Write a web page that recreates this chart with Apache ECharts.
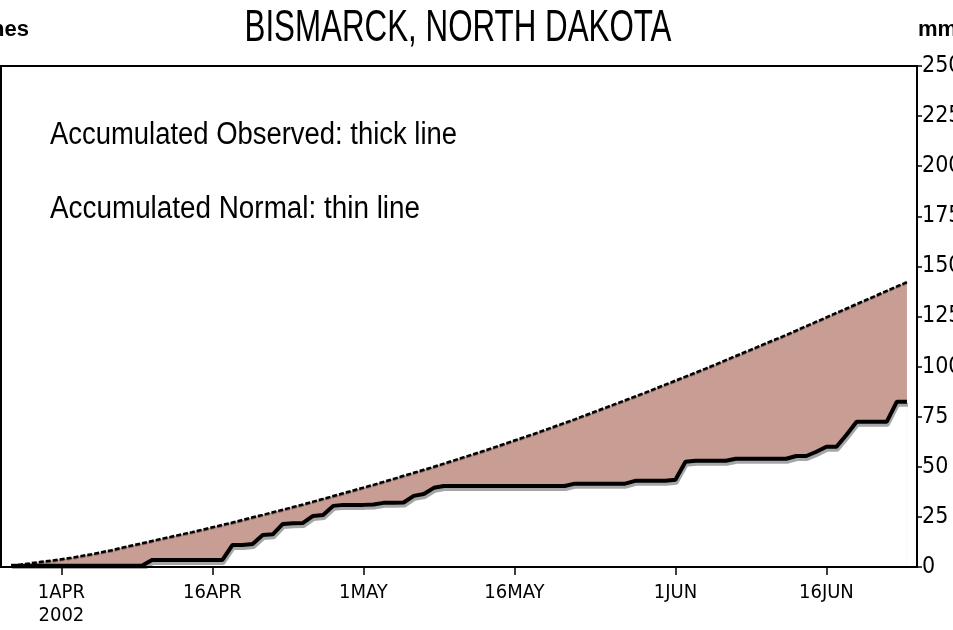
<!DOCTYPE html>
<html>
<head>
<meta charset="utf-8">
<script src="https://cdn.jsdelivr.net/npm/echarts@6/dist/echarts.min.js"></script>
<style>
  html, body { margin: 0; padding: 0; background: #fff; }
  #chart { width: 953px; height: 630px; }
</style>
</head>
<body>
<div id="chart"></div>
<script>
// daily axis, 26 Mar .. 25 Jun 2002
const monthNames = ["JAN", "FEB", "MAR", "APR", "MAY", "JUN"];
const days = [];
for (let i = 0; i < 92; i++) {
  const d = new Date(2002, 2, 26 + i);
  days.push(d.getDate() + monthNames[d.getMonth()]);
}

const tickDays = ["1APR", "16APR", "1MAY", "16MAY", "1JUN", "16JUN"];
const tickText = ["1APR\n2002", "16APR", "1MAY", "16MAY", "1JUN", "16JUN"];

// accumulated normal precipitation, mm
const normalMm = [
  null,
  0.6, 1.2, 1.9, 2.6, 3.2, 3.9, 4.6, 5.5, 6.4, 7.4,
  8.4, 9.6, 10.7, 11.8, 13.0, 14.1, 15.2, 16.3, 17.4, 18.6,
  19.8, 21.0, 22.2, 23.5, 24.8, 26.0, 27.3, 28.6, 29.9, 31.2,
  32.6, 34.0, 35.4, 36.8, 38.2, 39.6, 41.0, 42.5, 44.0, 45.5,
  47.0, 48.5, 50.0, 51.6, 53.2, 54.8, 56.4, 58.0, 59.7, 61.4,
  63.1, 64.8, 66.5, 68.3, 70.1, 71.9, 73.7, 75.6, 77.5, 79.4,
  81.3, 83.2, 85.1, 87.0, 89.0, 91.0, 93.0, 95.0, 97.0, 99.0,
  101.1, 103.2, 105.3, 107.4, 109.5, 111.6, 113.7, 115.8, 118.0, 120.2,
  122.4, 124.6, 126.8, 129.0, 131.2, 133.4, 135.6, 137.8, 140.0, 142.2,
  null,
];

// accumulated observed precipitation, mm
const observedMm = [
  null,
  0.6, 0.6, 0.6, 0.6, 0.6, 0.6, 0.6, 0.6, 0.6, 0.6,
  0.6, 0.6, 0.6, 0.6, 3.5, 3.5, 3.5, 3.5, 3.5, 3.5,
  3.5, 3.5, 11, 11, 11.5, 16, 16.3, 21.5, 21.8, 22,
  25.5, 26, 30.5, 31, 31, 31, 31.2, 32, 32, 32.2,
  35.5, 36.4, 39.5, 40.4, 40.4, 40.4, 40.4, 40.4, 40.4, 40.4,
  40.4, 40.4, 40.4, 40.4, 40.4, 40.4, 41.6, 41.6, 41.6, 41.6,
  41.6, 41.6, 43, 43, 43, 43, 43.5, 52.5, 53, 53,
  53, 53, 54, 54, 54, 54, 54, 54, 55.4, 55.4,
  57.5, 60, 60, 66, 72.5, 72.5, 72.5, 72.5, 82.5, 82.5,
  null,
];

const fillColor = "#c89d93";
const narrowFont = '"Liberation Sans Narrow", "DejaVu Sans Condensed", sans-serif';

const measureCtx = document.createElement("canvas").getContext("2d");
function fitScale(text, font, width) {
  measureCtx.font = font;
  return width / measureCtx.measureText(text).width;
}

function label(text, x, y, size, width, align) {
  const font = size + 'px "Liberation Sans", sans-serif';
  return {
    type: "text",
    x: x,
    y: y,
    scaleX: fitScale(text, font, width),
    z: 20,
    style: {
      text: text,
      font: font,
      fill: "#000",
      textAlign: align,
      textVerticalAlign: "middle",
    },
  };
}

const chart = echarts.init(document.getElementById("chart"));

chart.setOption({
  animation: false,
  backgroundColor: "#fff",
  grid: {
    left: 1,
    right: 36,
    top: 66,
    bottom: 63,
    outerBoundsMode: "none",
    containLabel: false,
    show: true,
    borderColor: "#000",
    borderWidth: 2,
  },
  xAxis: {
    type: "category",
    data: days,
    boundaryGap: false,
    z: 10,
    axisLine: { lineStyle: { color: "#000", width: 2 } },
    axisTick: {
      length: 8,
      interval: (i, v) => tickDays.includes(v),
      lineStyle: { color: "#000", width: 1.5 },
    },
    axisLabel: {
      interval: (i, v) => tickDays.includes(v),
      formatter: (v) => tickText[tickDays.indexOf(v)],
      color: "#000",
      fontFamily: narrowFont,
      fontSize: 20,
      lineHeight: 23,
      margin: 14,
    },
    splitLine: { show: false },
  },
  yAxis: {
    type: "value",
    position: "right",
    min: 0,
    max: 250,
    interval: 25,
    z: 10,
    axisLine: { show: true, lineStyle: { color: "#000", width: 2 } },
    axisTick: { show: true, length: 5, lineStyle: { color: "#000", width: 1.5 } },
    axisLabel: {
      color: "#000",
      fontFamily: narrowFont,
      fontSize: 23,
      margin: 5,
    },
    splitLine: { show: false },
  },
  graphic: [
    label("BISMARCK, NORTH DAKOTA", 458, 29, 45, 427, "center"),
    label("Accumulated Observed: thick line", 50, 135, 31, 407, "left"),
    label("Accumulated Normal: thin line", 50, 209, 31, 370, "left"),
    {
      type: "text",
      x: 29,
      y: 30,
      z: 20,
      style: {
        text: "Inches",
        font: 'bold 22px "Liberation Sans", sans-serif',
        fill: "#000",
        textAlign: "right",
        textVerticalAlign: "middle",
      },
    },
    {
      type: "text",
      x: 918,
      y: 30,
      z: 20,
      style: {
        text: "mm",
        font: 'bold 22px "Liberation Sans", sans-serif',
        fill: "#000",
        textAlign: "left",
        textVerticalAlign: "middle",
      },
    },
  ],
  series: [
    {
      name: "Normal",
      type: "line",
      data: normalMm,
      showSymbol: false,
      z: 2,
      lineStyle: {
        color: "#000",
        width: 2.5,
        type: [5, 2],
        shadowColor: "rgba(0,0,0,0.3)",
        shadowOffsetY: 1,
      },
      areaStyle: { color: fillColor, opacity: 1 },
    },
    {
      name: "Observed",
      type: "line",
      data: observedMm,
      showSymbol: false,
      z: 3,
      lineStyle: {
        color: "#000",
        width: 4,
        shadowColor: "rgba(0,0,0,0.35)",
        shadowOffsetX: 1,
        shadowOffsetY: 3,
      },
      areaStyle: { color: "#fff", opacity: 1 },
    },
  ],
});

window.addEventListener("resize", () => chart.resize());
</script>
</body>
</html>
